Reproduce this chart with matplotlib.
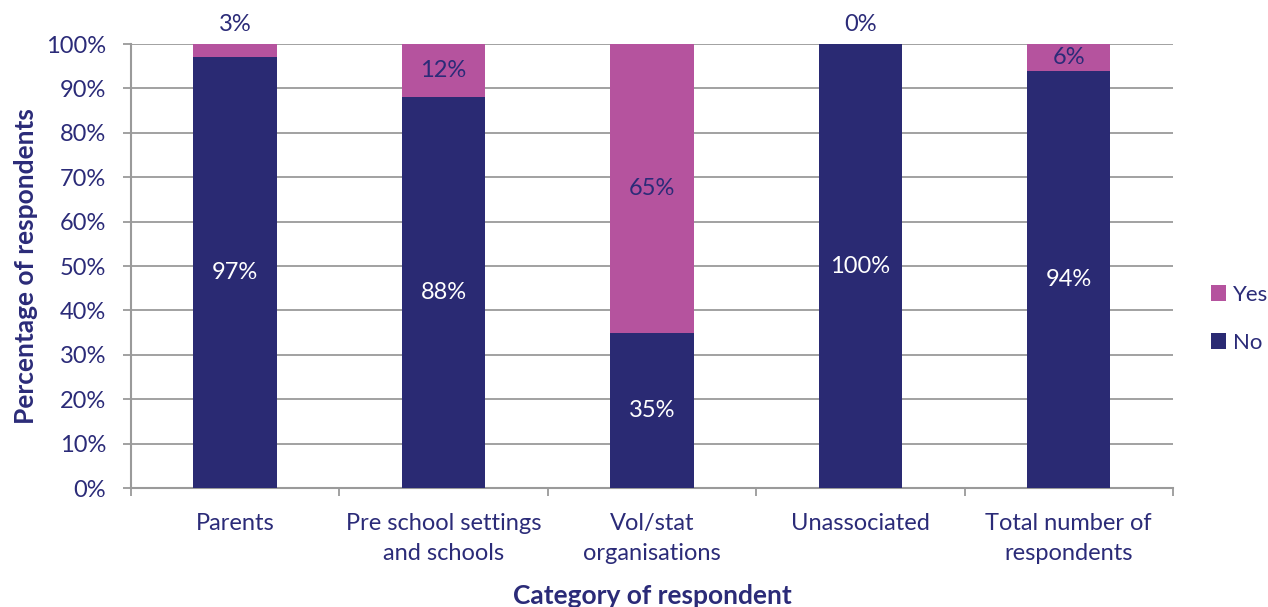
import matplotlib
matplotlib.use("Agg")
import matplotlib.pyplot as plt
import numpy as np

categories = ["Parents", "Pre school settings\nand schools", "Vol/stat\norganisations",
              "Unassociated", "Total number of\nrespondents"]
no_values = [97, 88, 35, 100, 94]
yes_values = [3, 12, 65, 0, 6]

navy = "#2A2A73"
pink = "#B5539E"
text_color = "#2B2B78"
grid_color = "#9A9A9A"

plt.rcParams["font.family"] = ["Lato", "DejaVu Sans"]

fig = plt.figure(figsize=(12.68, 6.07), dpi=100)
ax = fig.add_axes([0.1033, 0.196, 0.8217, 0.7315])

x = np.arange(len(categories))
width = 0.4
ax.bar(x, no_values, width, color=navy, label="No", zorder=3)
ax.bar(x, yes_values, width, bottom=no_values, color=pink, label="Yes", zorder=3)

label_size = 17
for i, (n, y) in enumerate(zip(no_values, yes_values)):
    ax.text(x[i], n / 2, f"{n}%", ha="center", va="center", color="white",
            fontsize=label_size, zorder=4)
    if y < 5:
        ax.text(x[i], 100 + 2.0, f"{y}%", ha="center", va="bottom", color=text_color,
                fontsize=label_size)
    else:
        ax.text(x[i], n + y / 2, f"{y}%", ha="center", va="center", color=text_color,
                fontsize=label_size, zorder=4)

ax.set_xlim(-0.5, len(categories) - 0.5)
ax.set_ylim(0, 100)
ax.set_yticks(np.arange(0, 101, 10))
ax.set_yticklabels([f"{v}%" for v in range(0, 101, 10)])
ax.yaxis.grid(True, color=grid_color, linewidth=1.3, zorder=0)
ax.set_axisbelow(True)

ax.set_xticks(x)
ax.set_xticklabels(categories, linespacing=1.55)
ax.set_xticks(np.arange(-0.5, len(categories), 1), minor=True)
ax.tick_params(axis="x", which="major", length=0, pad=18, labelsize=17, labelcolor=text_color)
ax.tick_params(axis="x", which="minor", length=6, width=1.3, color=grid_color)
ax.tick_params(axis="y", length=6, width=1.3, color=grid_color, labelsize=17,
               labelcolor=text_color, pad=12)

for side in ("top", "right"):
    ax.spines[side].set_visible(False)
for side in ("left", "bottom"):
    ax.spines[side].set_color(grid_color)
    ax.spines[side].set_linewidth(1.5)

ax.set_ylabel("Percentage of respondents", fontsize=19, fontweight="bold", color=text_color,
              labelpad=6)
ax.set_xlabel("Category of respondent", fontsize=19, fontweight="bold", color=text_color,
              labelpad=14)

handles, labels = ax.get_legend_handles_labels()
leg = fig.legend(handles[::-1], labels[::-1], loc="center left", bbox_to_anchor=(0.955, 0.475),
                 frameon=False, fontsize=16, handlelength=0.7, handleheight=0.7,
                 handletextpad=0.3, labelspacing=1.25, borderaxespad=0, borderpad=0)
for t in leg.get_texts():
    t.set_color(text_color)

fig.savefig("out.png", dpi=100)
